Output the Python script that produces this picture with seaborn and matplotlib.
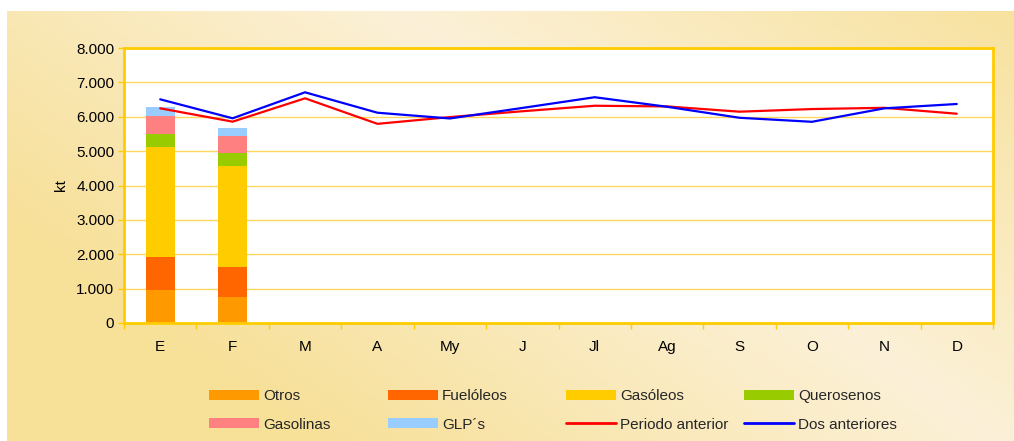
import numpy as np
import pandas as pd
import matplotlib
matplotlib.use("Agg")
import matplotlib.pyplot as plt
import seaborn as sns
from matplotlib.patches import Patch
from matplotlib.lines import Line2D
from matplotlib.colors import to_rgb
from matplotlib.ticker import FuncFormatter, MultipleLocator

months = ['E', 'F', 'M', 'A', 'My', 'J', 'Jl', 'Ag', 'S', 'O', 'N', 'D']

# monthly consumption by product (kt), only E and F available
bar_months = ['E', 'F']
otros = [960, 760]
fueloleos = [960, 870]
gasoleos = [3200, 2940]
querosenos = [390, 380]
gasolinas = [520, 500]
glp = [250, 230]

periodo_anterior = [6245, 5857, 6536, 5794, 5990, 6160, 6320, 6300, 6147, 6224, 6260, 6088]
dos_anteriores = [6507, 5955, 6711, 6117, 5950, 6256, 6568, 6290, 5970, 5853, 6245, 6371]

product_names = ['Otros', 'Fuelóleos', 'Gasóleos', 'Querosenos', 'Gasolinas', 'GLP´s']
product_colors = ['#FF9900', '#FF6600', '#FFCC00', '#99CC00', '#FF8080', '#99CCFF']

sns.set_theme(style="white")
plt.rcParams['font.family'] = ['Liberation Sans', 'DejaVu Sans']

W, H = 1014, 441
fig = plt.figure(figsize=(W / 100, H / 100), dpi=100)
fig.patch.set_facecolor('white')

# gradient background panel
bg = fig.add_axes([0, 0, 1, 1])
bg.set_xlim(0, W)
bg.set_ylim(H, 0)
bg.axis('off')
yy, xx = np.mgrid[11:H, 7:W]
d = np.abs((xx - 400) * 430 - (yy - 11) * 600) / np.hypot(430, 600)
t = np.clip(d / 400, 0, 1)[..., None]
light = np.array(to_rgb('#FCF1D8'))
yellow = np.array(to_rgb('#F7E098'))
img = light + (yellow - light) * t
bg.imshow(img, extent=(7, W, H, 11), aspect='auto', interpolation='bilinear')

ax = fig.add_axes([124 / W, (H - 323) / H, (993 - 124) / W, 275 / H])
ax.set_facecolor('white')

# stacked bars: draw cumulative totals from top down
stack = pd.DataFrame({'mes': bar_months, 'Otros': otros, 'Fuelóleos': fueloleos,
                      'Gasóleos': gasoleos, 'Querosenos': querosenos,
                      'Gasolinas': gasolinas, 'GLP´s': glp})
cum = stack[product_names].cumsum(axis=1)
cum['mes'] = stack['mes']
for name, color in reversed(list(zip(product_names, product_colors))):
    sns.barplot(data=cum, x='mes', y=name, order=months, color=color, width=0.4,
                saturation=1, linewidth=0, ax=ax, zorder=2)

lines = pd.DataFrame({'pos': np.arange(len(months)),
                      'Periodo anterior': periodo_anterior,
                      'Dos anteriores': dos_anteriores})
sns.lineplot(data=lines, x='pos', y='Periodo anterior', color='#FF0000', lw=1.6, ax=ax, zorder=3)
sns.lineplot(data=lines, x='pos', y='Dos anteriores', color='#0000FF', lw=1.6, ax=ax, zorder=3)

ax.set_xlim(-0.5, 11.5)
ax.set_ylim(0, 8000)
ax.set_xticks(np.arange(len(months)))
ax.set_xticklabels(months)
ax.xaxis.set_minor_locator(MultipleLocator(1, offset=0.5))
ax.yaxis.set_major_locator(MultipleLocator(1000))
ax.yaxis.set_major_formatter(FuncFormatter(lambda v, p: f"{int(v):,}".replace(',', '.')))
ax.set_axisbelow(True)
ax.yaxis.grid(True, color='#FFD75E', lw=1)
ax.xaxis.grid(False)
for s in ax.spines.values():
    s.set_color('#FFCC00')
    s.set_linewidth(2)
    s.set_visible(True)
ax.tick_params(axis='x', which='major', length=0, pad=12, labelsize=11, labelcolor='black')
ax.tick_params(axis='x', which='minor', length=4, width=1, color='#FFCC00', direction='out', bottom=True)
ax.tick_params(axis='y', length=4, width=1, color='#FFCC00', direction='out', left=True,
               labelsize=11, labelcolor='black', pad=3)
ax.set_xlabel('')
ax.set_ylabel('kt', fontsize=11, color='black', labelpad=6)

# legend in four fixed-pitch columns
handles = [Patch(color=c, lw=0) for c in product_colors]
handles += [Line2D([], [], color='#FF0000', lw=2), Line2D([], [], color='#0000FF', lw=2)]
labels = product_names + ['Periodo anterior', 'Dos anteriores']
columns = [(0, 4), (1, 5), (2, 6), (3, 7)]
col_x = [209, 388, 566, 744]
for (a, b), x0 in zip(columns, col_x):
    fig.legend([handles[a], handles[b]], [labels[a], labels[b]], loc='upper left',
               bbox_to_anchor=(x0 / W, 1 - 389 / H), frameon=False, fontsize=11,
               handlelength=3.3, handleheight=0.65, handletextpad=0.25,
               labelspacing=0.95, borderpad=0, borderaxespad=0)

fig.savefig('out.png', dpi=100, facecolor=fig.get_facecolor())
